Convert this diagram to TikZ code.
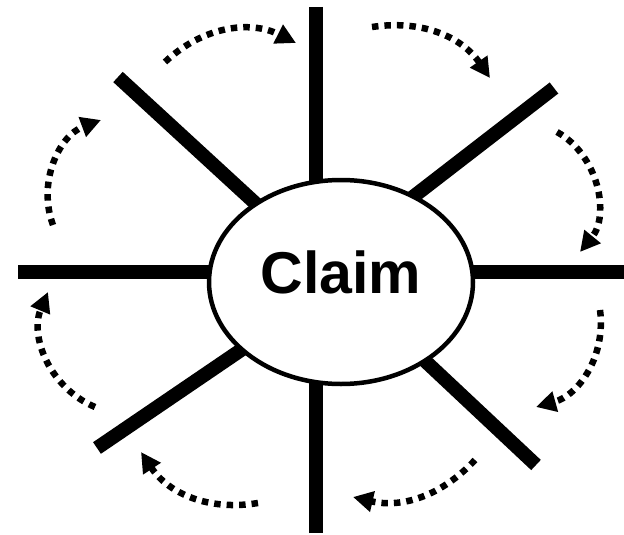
\documentclass[tikz,border=0pt]{standalone}
\usepackage{fontspec}
\setmainfont{Liberation Sans}
\usetikzlibrary{arrows.meta}
\usetikzlibrary{shapes.geometric}
\usetikzlibrary{backgrounds}

\begin{document}
\begin{tikzpicture}[x=1pt,y=1pt,
        spoke/.style={line width=14pt},
        turn/.style={-{Triangle[length=20pt,width=20pt]},line width=6.5pt,dash pattern=on 6.5pt off 6pt}]
        \useasboundingbox (0,0) rectangle (624,-535);
        \node[ellipse,draw,line width=4.5pt,fill=white,minimum width=264pt,minimum height=204pt,
            inner sep=0pt,text depth=20pt,font=\fontsize{59}{62}\selectfont\bfseries] (claim) at (341,-282) {Claim};
        % outer ends of the spokes
        \coordinate (n) at (316,-7);
        \coordinate (s) at (316,-533);
        \coordinate (w) at (18,-272);
        \coordinate (e) at (624,-272);
        \coordinate (nw) at (118,-77);
        \coordinate (ne) at (554,-88);
        \coordinate (ne in) at (400,-207);
        \coordinate (sw) at (97,-448);
        \coordinate (se) at (536,-465);
        \begin{pgfonlayer}{background}
            \draw[spoke] (n) -- (n |- claim.center);
            \draw[spoke] (s) -- (s |- claim.center);
            \draw[spoke] (w) -- (w -| claim.center);
            \draw[spoke] (e) -- (e -| claim.center);
            \draw[spoke] (nw) -- (claim.center);
            \draw[spoke] (ne) -- (ne in);
            \draw[spoke] (sw) -- (claim.center);
            \draw[spoke] (se) -- (claim.center);
        \end{pgfonlayer}
        % dotted arrows, clockwise
        \coordinate (a1) at (165,-62);  \coordinate (b1) at (296,-43);
        \coordinate (a2) at (372,-27);  \coordinate (b2) at (490,-78);
        \coordinate (a3) at (53,-225);  \coordinate (b3) at (101,-120);
        \coordinate (a4) at (557,-132); \coordinate (b4) at (580,-252);
        \coordinate (a5) at (95,-407);  \coordinate (b5) at (48,-292);
        \coordinate (a6) at (600,-310); \coordinate (b6) at (536,-407);
        \coordinate (a7) at (258,-503); \coordinate (b7) at (141,-452);
        \coordinate (a8) at (475,-460); \coordinate (b8) at (353,-497);
        \foreach \i/\b in {1/35,2/32,3/45,4/50,5/45,6/41,7/33,8/30}{
            \draw[turn] (a\i) to[bend left=\b] (b\i);
        }
\end{tikzpicture}
\end{document}
